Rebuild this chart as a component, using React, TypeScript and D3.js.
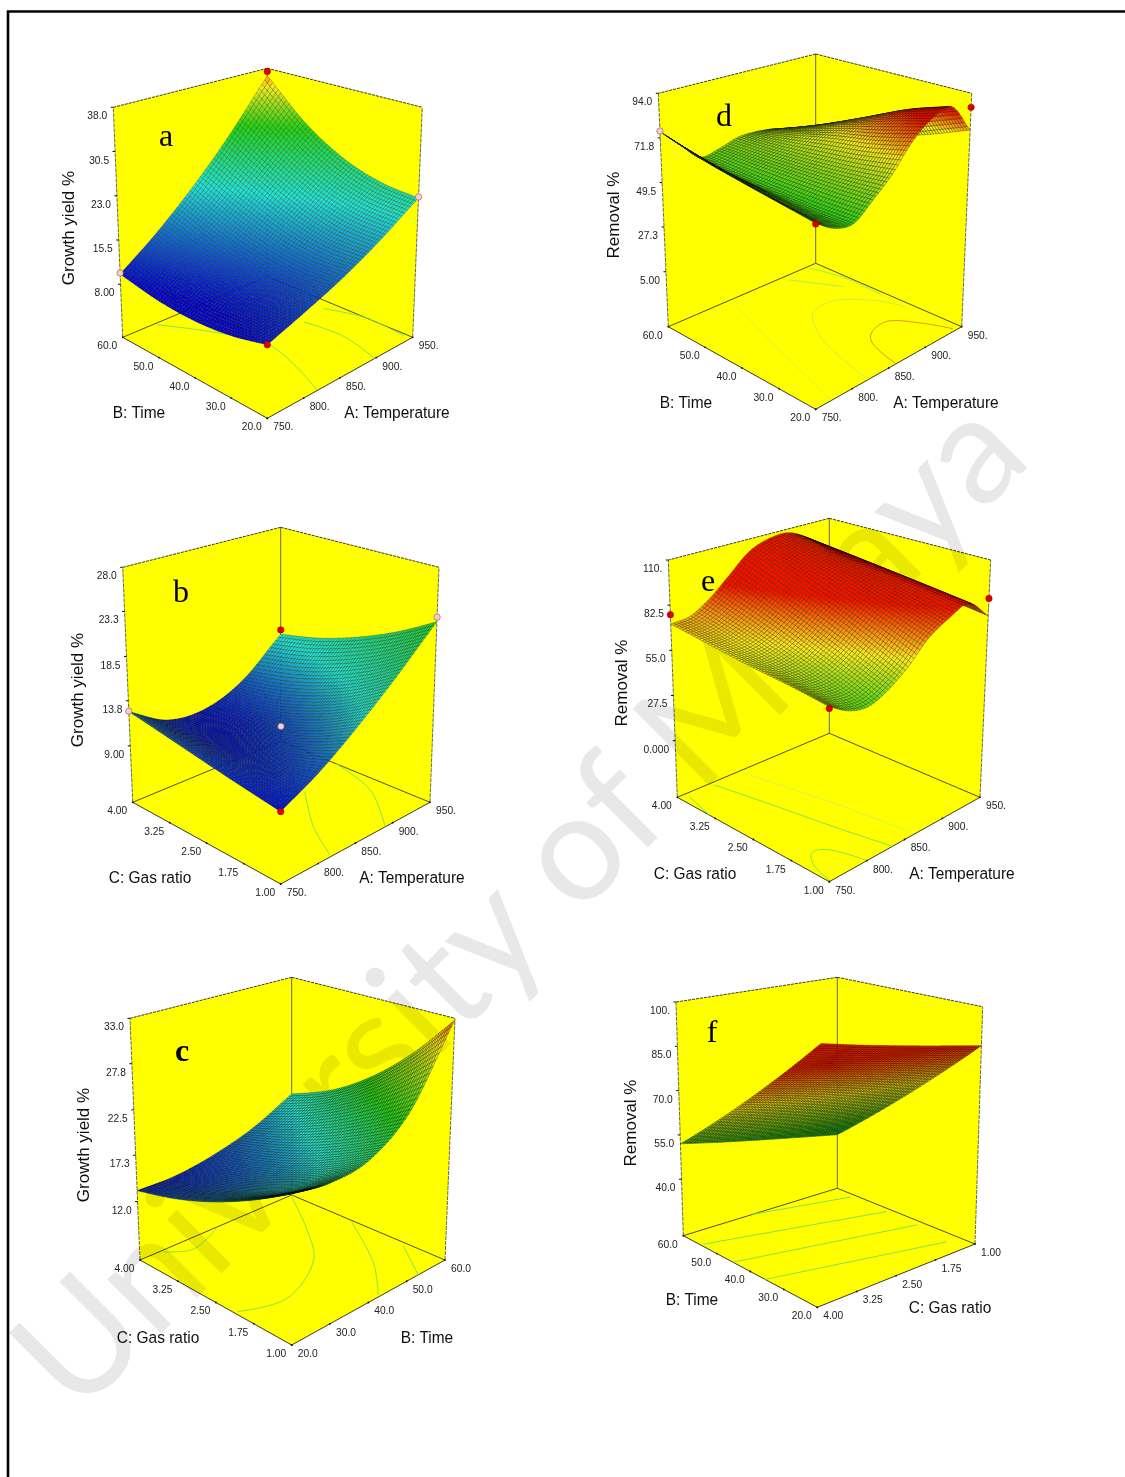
import React, { useMemo } from "react";
import * as d3 from "d3";

type Pt = [number, number];

const TEMP_TICKS = [750, 800, 850, 900, 950];
const TEMP_LABELS = ["750.", "800.", "850.", "900.", "950."];
const TIME_TICKS = [20, 30, 40, 50, 60];
const TIME_LABELS = ["20.0", "30.0", "40.0", "50.0", "60.0"];
const GAS_TICKS = [1, 1.75, 2.5, 3.25, 4];
const GAS_LABELS = ["1.00", "1.75", "2.50", "3.25", "4.00"];

// surface values: rows run along the left floor axis, columns along the right floor axis
const SURFACE_A = [
  [9.8, 12.0, 14.6, 18.1, 22.6],
  [8.5, 11.0, 14.3, 18.5, 23.3],
  [8.0, 11.2, 15.3, 20.3, 25.5],
  [8.4, 12.5, 17.3, 23.5, 29.8],
  [9.7, 14.4, 20.3, 27.6, 36.6],
];
const SURFACE_B = [
  [9.7, 11.7, 14.5, 18.0, 22.2],
  [10.3, 10.8, 12.6, 15.6, 19.9],
  [11.0, 10.3, 11.2, 13.8, 18.0],
  [11.8, 10.1, 10.3, 12.5, 16.5],
  [12.65, 10.3, 10.0, 11.7, 15.5],
];
const SURFACE_C = [
  [20.3, 19.8, 20.6, 24.3, 32.8],
  [18.0, 17.4, 18.4, 21.6, 27.7],
  [16.0, 15.6, 16.5, 19.2, 23.5],
  [14.4, 14.2, 15.1, 17.2, 20.3],
  [13.25, 13.3, 14.1, 15.6, 18.15],
];
const SURFACE_D = [
  [57.8, 52.4, 51.3, 58.6, 67.3, 79.3, 87.5, 90.3, 75.7],
  [61.0, 54.5, 51.5, 57.8, 64.8, 74.5, 82.0, 83.5, 68.0],
  [64.4, 57.5, 52.5, 57.5, 63.0, 71.0, 75.0, 74.0, 61.0],
  [68.6, 60.8, 53.8, 57.4, 61.7, 66.0, 67.0, 64.0, 54.0],
  [74.9, 65.4, 56.3, 57.7, 60.7, 60.7, 58.8, 54.0, 48.0],
];
const SURFACE_E = [
  [58.0, 51.6, 49.7, 54.5, 63.2, 75.3, 82.8, 87.7, 76.0],
  [61.0, 56.8, 57.2, 63.5, 72.9, 83.2, 88.9, 90.8, 79.0],
  [63.5, 62.0, 64.7, 72.5, 82.6, 91.2, 95.1, 93.9, 82.0],
  [67.0, 67.2, 72.2, 81.6, 92.3, 99.0, 101.3, 97.0, 85.0],
  [71.0, 72.3, 79.7, 90.6, 102.0, 107.0, 107.4, 100.0, 88.0],
];
const SURFACE_F = [
  [98.0, 95.2, 92.5, 89.8, 87.0],
  [86.5, 83.8, 81.0, 78.2, 75.5],
  [75.0, 72.2, 69.5, 66.8, 64.0],
  [63.5, 60.8, 58.0, 55.2, 52.5],
  [52.0, 49.2, 46.5, 43.8, 41.0],
];

// design points: right-axis value, left-axis value, response, kind
const POINTS_A: [number, number, number, string][] = [
  [750, 20, 9.8, "red"], [950, 60, 37.4, "red"], [750, 60, 9.9, "pink"], [950, 20, 22.8, "pink"],
];
const POINTS_B: [number, number, number, string][] = [
  [750, 1, 9.7, "red"], [950, 4, 16.0, "red"], [750, 4, 12.7, "pink"], [950, 1, 22.7, "pink"], [850, 2.5, 11.5, "pink"],
];
const POINTS_C: [number, number, number, string][] = [];
const POINTS_D: [number, number, number, string][] = [
  [750, 20, 57.5, "red"], [950, 20, 87.0, "red"], [750, 60, 75.2, "pink"],
];
const POINTS_E: [number, number, number, string][] = [
  [750, 1, 57.0, "red"], [950, 1, 86.6, "red"], [750, 4, 76.7, "red"],
];
const POINTS_F: [number, number, number, string][] = [];

// floor contour lines: [right-axis value, left-axis value]
const CONTOURS_A: Pt[][] = [
  [[795, 59.4], [825, 50.7], [848, 39.6], [836, 29.2], [819, 20.2]],
  [[904, 40.8], [909, 30.8], [898, 20]],
  [[937, 42], [950, 32.8], [947, 21.9]],
];
const CONTOURS_B: Pt[][] = [
  [[888, 2.59], [845, 1.77], [819, 1.05]],
  [[950, 2.89], [932, 1.93], [890, 1]],
];
const CONTOURS_C: Pt[][] = [
  [[25.7, 3.96], [30.8, 3.75], [39.4, 3.96]],
  [[20.7, 2.13], [30.8, 1.9], [44.2, 2.39], [52.4, 3.16], [59.4, 3.96]],
  [[59.6, 2.8], [50.7, 1.7], [43.1, 1.04]],
  [[59, 1.74], [53, 1]],
];
const CONTOURS_D: Pt[][] = [
  [[822, 20], [844, 36.8], [873, 45.3], [902, 46.4], [932, 40.8], [944, 34]],
  [[938, 59.2], [947, 51.8], [946, 40.8]],
  [[906, 58.4], [933, 49]],
  [[831, 58.2], [802, 41], [780, 26], [772, 20.4]],
  [[860, 20], [872, 28.8], [884, 31.6], [910, 32.8], [931, 26.9], [942, 20.8]],
];
const CONTOURS_E: Pt[][] = [
  [[752, 1.03], [761, 1.49], [773, 1.69], [785, 1.65], [794, 1.39], [800, 1]],
  [[794, 3.94], [807, 3.09], [821, 1.98], [834, 1]],
  [[832, 3.94], [852, 2.45], [863, 1.1]],
  [[760, 3.91], [750, 3.37]],
];
const CONTOURS_F: Pt[][] = [
  [[3.95, 54.8], [1.09, 44.4]],
  [[4, 45.2], [1.11, 35.2]],
  [[4, 35.6], [1.22, 24.8]],
  [[2.65, 60], [1.09, 54.8]],
];

const RAMP = ["#0000d8", "#20e0e0", "#20d020", "#f8e828", "#f81000"];
const CONTOUR_GREEN = "#70e060";
const CONTOUR_RED = "#d09020";

interface Box { F: Pt; L: Pt; R: Pt; B: Pt; FT: Pt; LT: Pt; RT: Pt; BT: Pt }
interface Panel {
  letter: string; letterPos: Pt; box: Box;
  surface: number[][]; stops: number[]; meshOpacity: number;
  zFloor: number; zTicks: number[]; zLabels: string[]; zTitle: string; zTitlePos: Pt;
  uDomain: [number, number]; uTicks: number[]; uLabels: string[]; uTitle: string; uTitlePos: Pt;
  vDomain: [number, number]; vTicks: number[]; vLabels: string[]; vTitle: string; vTitlePos: Pt;
  points: [number, number, number, string][]; contours: Pt[][]; contourStroke?: string[];
}

const PANELS: Panel[] = [
  {
    letter: "a", letterPos: [166, 136],
    box: { F: [267.3, 418.3], L: [122.7, 337.3], R: [412.7, 337.3], B: [267.3, 276.7], FT: [267.3, 153], LT: [113.3, 107.3], RT: [422.3, 107.3], BT: [267.3, 68.3] },
    surface: SURFACE_A, stops: [9, 20.5, 29, 35, 39], meshOpacity: 0.4,
    zFloor: -1, zTicks: [8, 15.5, 23, 30.5, 38], zLabels: ["8.00", "15.5", "23.0", "30.5", "38.0"], zTitle: "Growth yield %", zTitlePos: [68, 228],
    uDomain: [750, 950], uTicks: TEMP_TICKS, uLabels: TEMP_LABELS, uTitle: "A: Temperature", uTitlePos: [397, 412],
    vDomain: [20, 60], vTicks: TIME_TICKS, vLabels: TIME_LABELS, vTitle: "B: Time", vTitlePos: [139, 412],
    points: POINTS_A, contours: CONTOURS_A,
  },
  {
    letter: "b", letterPos: [181, 592],
    box: { F: [280.7, 884], L: [132.7, 802.3], R: [430, 802.3], B: [280.7, 741], FT: [280.7, 614], LT: [122.7, 567.3], RT: [439, 567.3], BT: [280.7, 527.3] },
    surface: SURFACE_B, stops: [9.5, 15.2, 23.5, 28, 33], meshOpacity: 0.45,
    zFloor: 3, zTicks: [9, 13.8, 18.5, 23.3, 28], zLabels: ["9.00", "13.8", "18.5", "23.3", "28.0"], zTitle: "Growth yield %", zTitlePos: [77, 690],
    uDomain: [750, 950], uTicks: TEMP_TICKS, uLabels: TEMP_LABELS, uTitle: "A: Temperature", uTitlePos: [412, 877],
    vDomain: [1, 4], vTicks: GAS_TICKS, vLabels: GAS_LABELS, vTitle: "C: Gas ratio", vTitlePos: [150, 877],
    points: POINTS_B, contours: CONTOURS_B,
  },
  {
    letter: "c", letterPos: [182, 1051],
    box: { F: [291.7, 1345], L: [140, 1260], R: [445, 1260], B: [291.7, 1195], FT: [291.7, 1066], LT: [130, 1018.3], RT: [455, 1018.3], BT: [291.7, 977.3] },
    surface: SURFACE_C, stops: [12.5, 17.8, 23, 30, 35], meshOpacity: 0.55,
    zFloor: 5.3, zTicks: [12, 17.3, 22.5, 27.8, 33], zLabels: ["12.0", "17.3", "22.5", "27.8", "33.0"], zTitle: "Growth yield %", zTitlePos: [83, 1145],
    uDomain: [20, 60], uTicks: TIME_TICKS, uLabels: TIME_LABELS, uTitle: "B: Time", uTitlePos: [427, 1337],
    vDomain: [1, 4], vTicks: GAS_TICKS, vLabels: GAS_LABELS, vTitle: "C: Gas ratio", vTitlePos: [158, 1337],
    points: POINTS_C, contours: CONTOURS_C,
  },
  {
    letter: "d", letterPos: [724, 116],
    box: { F: [815.7, 409.3], L: [668.3, 326.7], R: [961.7, 326.7], B: [815.7, 263.3], FT: [815.7, 139.3], LT: [658.3, 93.3], RT: [971.7, 93.3], BT: [815.7, 54] },
    surface: SURFACE_D, stops: [5, 25, 50, 72, 86], meshOpacity: 0.55,
    zFloor: -22.4, zTicks: [5, 27.3, 49.5, 71.8, 94], zLabels: ["5.00", "27.3", "49.5", "71.8", "94.0"], zTitle: "Removal %", zTitlePos: [613, 215],
    uDomain: [750, 950], uTicks: TEMP_TICKS, uLabels: TEMP_LABELS, uTitle: "A: Temperature", uTitlePos: [946, 402],
    vDomain: [20, 60], vTicks: TIME_TICKS, vLabels: TIME_LABELS, vTitle: "B: Time", vTitlePos: [686, 402],
    points: POINTS_D, contours: CONTOURS_D, contourStroke: ["#c8e850", "#90e860", "#a8e860", "#d0f050", CONTOUR_RED],
  },
  {
    letter: "e", letterPos: [708, 581],
    box: { F: [829.3, 881.7], L: [677.3, 797.3], R: [980, 797.3], B: [829.3, 733.3], FT: [829.3, 608.3], LT: [668.3, 560], RT: [990.7, 560], BT: [829.3, 518.3] },
    surface: SURFACE_E, stops: [10, 25, 44, 66, 86], meshOpacity: 0.5,
    zFloor: -34.5, zTicks: [0, 27.5, 55, 82.5, 110], zLabels: ["0.000", "27.5", "55.0", "82.5", "110."], zTitle: "Removal %", zTitlePos: [621, 683],
    uDomain: [750, 950], uTicks: TEMP_TICKS, uLabels: TEMP_LABELS, uTitle: "A: Temperature", uTitlePos: [962, 873],
    vDomain: [1, 4], vTicks: GAS_TICKS, vLabels: GAS_LABELS, vTitle: "C: Gas ratio", vTitlePos: [695, 873],
    points: POINTS_E, contours: CONTOURS_E, contourStroke: [CONTOUR_GREEN, CONTOUR_GREEN, "#d0f050", CONTOUR_GREEN],
  },
  {
    letter: "f", letterPos: [712, 1032],
    box: { F: [817.3, 1307.3], L: [683.3, 1235.7], R: [975, 1244], B: [837.3, 1188.3], FT: [821, 1036.7], LT: [676, 1002], RT: [982.7, 1006.7], BT: [837.3, 977.3] },
    surface: SURFACE_F, stops: [0, 20, 46, 70, 88], meshOpacity: 0.65,
    zFloor: 20.9, zTicks: [40, 55, 70, 85, 100], zLabels: ["40.0", "55.0", "70.0", "85.0", "100."], zTitle: "Removal %", zTitlePos: [630, 1123],
    uDomain: [4, 1], uTicks: [...GAS_TICKS].reverse(), uLabels: [...GAS_LABELS].reverse(), uTitle: "C: Gas ratio", uTitlePos: [950, 1307],
    vDomain: [20, 60], vTicks: TIME_TICKS, vLabels: TIME_LABELS, vTitle: "B: Time", vTitlePos: [692, 1299],
    points: POINTS_F, contours: CONTOURS_F,
  },
];

const MESH = 56;
const YELLOW = "#ffff00";
const SANS = "'Liberation Sans', Arial, sans-serif";

const mix = (a: Pt, b: Pt, t: number): Pt => [a[0] + (b[0] - a[0]) * t, a[1] + (b[1] - a[1]) * t];

function project(box: Box, u: number, v: number, w: number): Pt {
  const floor = mix(mix(box.F, box.R, u), mix(box.L, box.B, u), v);
  const top = mix(mix(box.FT, box.RT, u), mix(box.LT, box.BT, u), v);
  return mix(floor, top, w);
}

function catmull(a: number, b: number, c: number, d: number, t: number) {
  return 0.5 * (2 * b + (c - a) * t + (2 * a - 5 * b + 4 * c - d) * t * t + (3 * b - a - 3 * c + d) * t * t * t);
}
function along(row: number[], s: number) {
  const n = row.length;
  const x = Math.min(s * (n - 1), n - 1.000001);
  const i = Math.floor(x);
  const at = (k: number) => (k < 0 ? 2 * row[0] - row[1] : k >= n ? 2 * row[n - 1] - row[n - 2] : row[k]);
  return catmull(at(i - 1), at(i), at(i + 1), at(i + 2), x - i);
}
const sampleSurface = (g: number[][], u: number, v: number) => along(g.map((r) => along(r, u)), v);

const linePath = d3.line<Pt>().x((d) => d[0]).y((d) => d[1]);
const smoothPath = d3.line<Pt>().x((d) => d[0]).y((d) => d[1]).curve(d3.curveCatmullRom.alpha(0.5));

const scalesOf = (p: Panel) => ({
  wScale: d3.scaleLinear().domain([p.zFloor, p.zTicks[p.zTicks.length - 1]]).range([0, 1]),
  uScale: d3.scaleLinear().domain(p.uDomain).range([0, 1]),
  vScale: d3.scaleLinear().domain(p.vDomain).range([0, 1]),
});

function PanelBack({ p }: { p: Panel }) {
  const { uScale, vScale } = scalesOf(p);
  const b = p.box;
  const edge = (a: Pt, c: Pt, key: string, stroke = "#111", sw = 0.9, dash?: string) => (
    <path key={key} d={linePath([a, c]) as string} stroke={stroke} strokeWidth={sw} strokeDasharray={dash} fill="none" />
  );
  return (
    <g>
      <path d={(linePath([b.L, b.B, b.BT, b.LT]) as string) + "Z"} fill={YELLOW} />
      <path d={(linePath([b.R, b.B, b.BT, b.RT]) as string) + "Z"} fill={YELLOW} />
      <path d={(linePath([b.F, b.L, b.B, b.R]) as string) + "Z"} fill={YELLOW} />
      {edge(b.L, b.B, "lb", "#222", 0.8)}
      {edge(b.R, b.B, "rb", "#222", 0.8)}
      {edge(b.B, b.BT, "bv", "#555", 0.9)}
      {edge(b.BT, b.LT, "tl", "#222", 0.9, "3 1")}
      {edge(b.BT, b.RT, "tr", "#222", 0.9, "3 1")}
      {edge(b.L, b.LT, "lv", "#444", 0.8, "4 1")}
      {edge(b.R, b.RT, "rv", "#444", 0.8, "4 1")}
      {edge(b.L, b.F, "lf", "#222", 0.9)}
      {edge(b.R, b.F, "rf", "#222", 0.9)}
      {p.contours.map((c, i) => (
        <path
          key={"c" + i}
          d={smoothPath(c.map((q) => project(b, uScale(q[0]), vScale(q[1]), 0))) as string}
          fill="none"
          stroke={p.contourStroke ? p.contourStroke[i] : CONTOUR_GREEN}
          strokeWidth={0.9}
        />
      ))}
    </g>
  );
}

function PanelFront({ p }: { p: Panel }) {
  const { wScale, uScale, vScale } = scalesOf(p);
  const color = d3.scaleLinear<string>().domain(p.stops).range(RAMP).interpolate(d3.interpolateRgb).clamp(true);
  const b = p.box;

  const cells = useMemo(() => {
    const pts: Pt[][] = [];
    const zs: number[][] = [];
    for (let j = 0; j <= MESH; j++) {
      const row: Pt[] = [];
      const zr: number[] = [];
      for (let i = 0; i <= MESH; i++) {
        const z = sampleSurface(p.surface, i / MESH, j / MESH);
        zr.push(z);
        row.push(project(b, i / MESH, j / MESH, wScale(z)));
      }
      pts.push(row);
      zs.push(zr);
    }
    const out: { d: string; fill: string }[] = [];
    for (let j = MESH - 1; j >= 0; j--) {
      for (let i = MESH - 1; i >= 0; i--) {
        const q: Pt[] = [pts[j][i], pts[j][i + 1], pts[j + 1][i + 1], pts[j + 1][i]];
        const z = (zs[j][i] + zs[j][i + 1] + zs[j + 1][i + 1] + zs[j + 1][i]) / 4;
        out.push({ d: (linePath(q) as string) + "Z", fill: color(z) as string });
      }
    }
    return out;
  }, [p]);

  const tick = (x: number, y: number, text: string, anchor: string, dx: number, fs = 11.4) => (
    <text
      transform={`translate(${x + dx},${y + 8}) scale(0.9,1)`}
      dy="0.35em"
      textAnchor={anchor}
      fontFamily={SANS}
      fontSize={fs}
      fill="#222"
    >
      {text}
    </text>
  );
  const title = (pos: Pt, text: string) => (
    <text
      transform={`translate(${pos[0]},${pos[1]}) scale(0.91,1)`}
      dy="0.35em"
      textAnchor="middle"
      fontFamily={SANS}
      fontSize={17}
      fill="#111"
    >
      {text}
    </text>
  );

  return (
    <g>
      {p.zTicks.map((t, i) => {
        const q = project(b, 0, 1, wScale(t));
        return (
          <g key={"z" + i}>
            <line x1={q[0] - 2.5} x2={q[0]} y1={q[1]} y2={q[1]} stroke="#111" strokeWidth={1} />
            {tick(q[0], q[1], p.zLabels[i], "end", -6)}
          </g>
        );
      })}
      {p.vTicks.map((t, i) => {
        const q = project(b, 0, vScale(t), 0);
        return (
          <g key={"v" + i}>
            <circle cx={q[0]} cy={q[1]} r={0.9} fill="#111" />
            {tick(q[0], q[1], p.vLabels[i], "end", -5.5)}
          </g>
        );
      })}
      {p.uTicks.map((t, i) => {
        const q = project(b, uScale(t), 0, 0);
        return (
          <g key={"u" + i}>
            <circle cx={q[0]} cy={q[1]} r={0.9} fill="#111" />
            {tick(q[0], q[1], p.uLabels[i], "start", 6)}
          </g>
        );
      })}

      <g>
        {cells.map((c, i) => (
          <path key={i} d={c.d} fill={c.fill} stroke="#000" strokeOpacity={p.meshOpacity} strokeWidth={0.5} />
        ))}
      </g>

      {p.points.map((q, i) => {
        const s = project(b, uScale(q[0]), vScale(q[1]), wScale(q[2]));
        return (
          <circle key={"p" + i} cx={s[0]} cy={s[1]} r={3.2} fill={q[3] === "red" ? "#e00000" : "#f6cccc"} stroke={q[3] === "red" ? "#a00000" : "#806060"} strokeWidth={0.6} />
        );
      })}

      <text x={p.letterPos[0]} y={p.letterPos[1]} dy="0.3em" textAnchor="middle" fontFamily="'Liberation Serif', serif" fontSize={32} fontWeight={p.letter === "c" ? 700 : 400} fill="#000">
        {p.letter}
      </text>
      {title(p.uTitlePos, p.uTitle)}
      {title(p.vTitlePos, p.vTitle)}
      <text
        transform={`translate(${p.zTitlePos[0]},${p.zTitlePos[1]}) rotate(-90)`}
        dy="0.35em"
        textAnchor="middle"
        fontFamily={SANS}
        fontSize={17}
        fill="#111"
      >
        {p.zTitle}
      </text>
    </g>
  );
}

export default function App() {
  return (
    <svg width={1125} height={1477} viewBox="0 0 1125 1477" style={{ position: "absolute", left: 0, top: 0, background: "#fff" }}>
      <defs>
        <filter id="soft" x="0" y="0" width="100%" height="100%" filterUnits="userSpaceOnUse" primitiveUnits="userSpaceOnUse">
          <feGaussianBlur stdDeviation="0.35" />
        </filter>
      </defs>
      <rect width={1125} height={1477} fill="#fff" />
      <g filter="url(#soft)">
        {PANELS.map((p) => (
          <PanelBack key={p.letter} p={p} />
        ))}
        <text
          transform="translate(518,902) rotate(-45)"
          textAnchor="middle"
          dy="0.35em"
          fontFamily="Lato, 'Open Sans', sans-serif"
          fontSize={151}
          fill="#e8e8e8"
          style={{ mixBlendMode: "multiply" }}
        >
          University of Malaya
        </text>
        {PANELS.map((p) => (
          <PanelFront key={p.letter} p={p} />
        ))}
        <path d="M8,1477V11.5H1125" fill="none" stroke="#000" strokeWidth={2.6} />
      </g>
    </svg>
  );
}
